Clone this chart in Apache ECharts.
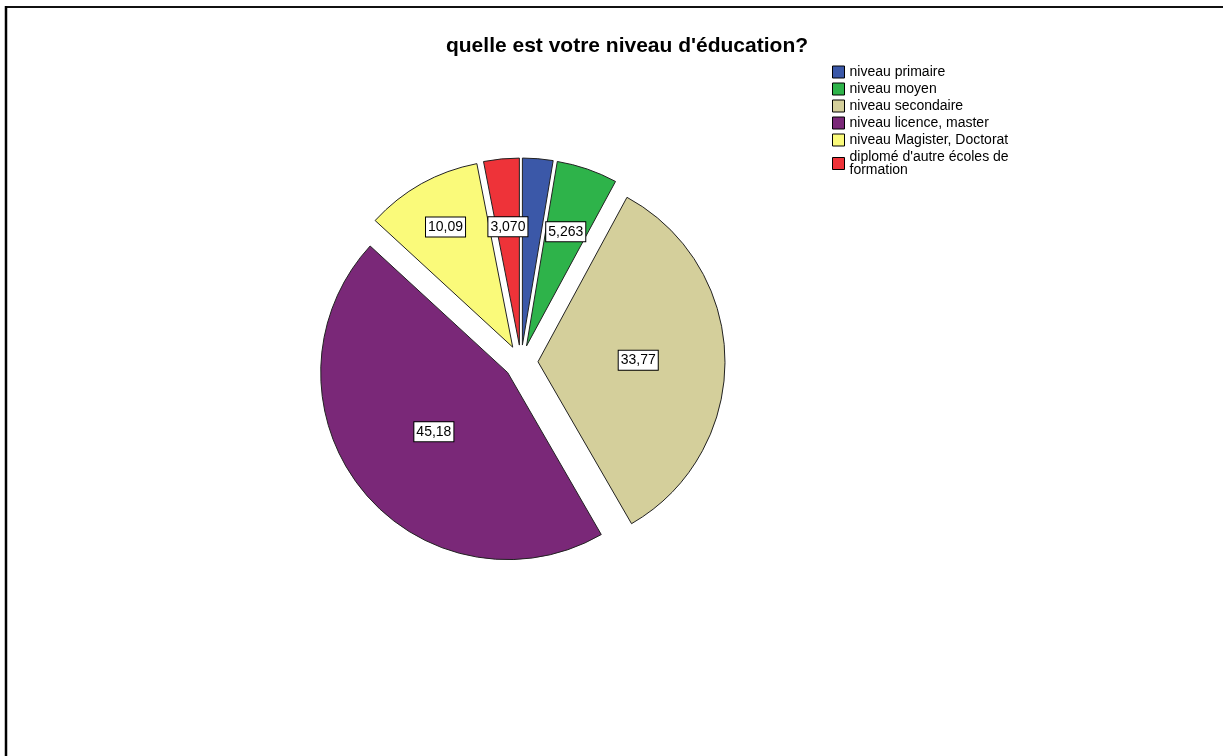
<!DOCTYPE html>
<html>
<head>
<meta charset="utf-8">
<script src="https://cdn.jsdelivr.net/npm/echarts@6/dist/echarts.min.js"></script>
<style>
  html, body { margin: 0; padding: 0; background: #fff; }
  #chart { width: 1223px; height: 756px; }
</style>
</head>
<body>
<div id="chart"></div>
<script>
// Education level of respondents (percent)
const categories = [
  'niveau primaire',
  'niveau moyen',
  'niveau secondaire',
  'niveau licence, master',
  'niveau Magister, Doctorat',
  "diplomé d'autre écoles de\nformation"
];
const percents = [2.632, 5.263, 33.77, 45.18, 10.09, 3.070];
// The primaire slice carries no value box
const showLabel = [false, true, true, true, true, true];
const colors = ['#3B58A8', '#2EB34A', '#D4CF9B', '#7A2878', '#FAFA7A', '#EE3339'];
// radial position of each value box, as a fraction of the radius
const labelFrac = [0.5, 0.63, 0.52, 0.49, 0.72, 0.62];

const R = 187;
const total = percents.reduce((a, b) => a + b, 0);
// mid angle of each slice, clockwise from 12 o'clock
const midAngles = [];
let acc = 0;
percents.forEach(v => {
  midAngles.push((acc + v / 2) / total * 2 * Math.PI);
  acc += v;
});

const fmt = v => v.toPrecision(4).replace('.', ',');

const chart = echarts.init(document.getElementById('chart'), null, { renderer: 'canvas' });
chart.setOption({
  animation: false,
  backgroundColor: '#fff',
  title: {
    text: "quelle est votre niveau d'éducation?",
    left: 622,
    textAlign: 'center',
    top: 31,
    textStyle: { fontFamily: 'Liberation Sans', fontWeight: 'bold', fontSize: 21, color: '#000' }
  },
  legend: {
    orient: 'vertical',
    left: 827,
    top: 60,
    itemWidth: 12,
    itemHeight: 12,
    itemGap: 3,
    icon: 'rect',
    selectedMode: false,
    itemStyle: { borderColor: '#000', borderWidth: 1 },
    textStyle: { fontFamily: 'Liberation Sans', fontSize: 14, color: '#000', lineHeight: 13 },
    data: categories
  },
  graphic: [
    { type: 'line', shape: { x1: 5, y1: 7, x2: 1223, y2: 7 }, style: { stroke: '#111', lineWidth: 2 } },
    { type: 'line', shape: { x1: 6, y1: 6, x2: 6, y2: 756 }, style: { stroke: '#000', lineWidth: 2.5 } }
  ],
  series: [{
    type: 'pie',
    center: [521, 362],
    radius: R,
    startAngle: 90,
    clockwise: true,
    selectedMode: 'multiple',
    selectedOffset: 17,
    emphasis: { disabled: true },
    itemStyle: { borderColor: '#222', borderWidth: 1 },
    label: {
      position: 'inner',
      formatter: p => fmt(p.value),
      fontFamily: 'Liberation Sans',
      fontSize: 14,
      lineHeight: 14,
      color: '#000',
      backgroundColor: '#fff',
      borderColor: '#000',
      borderWidth: 1,
      padding: [3, 2, 2, 2]
    },
    labelLine: { show: false },
    labelLayout: p => {
      const i = p.dataIndex;
      const extra = (labelFrac[i] - 0.5) * R;
      return { dx: Math.sin(midAngles[i]) * extra, dy: -Math.cos(midAngles[i]) * extra };
    },
    data: categories.map((name, i) => ({
      name: name,
      value: percents[i],
      selected: true,
      itemStyle: { color: colors[i] },
      label: { show: showLabel[i] }
    }))
  }]
});
</script>
</body>
</html>
